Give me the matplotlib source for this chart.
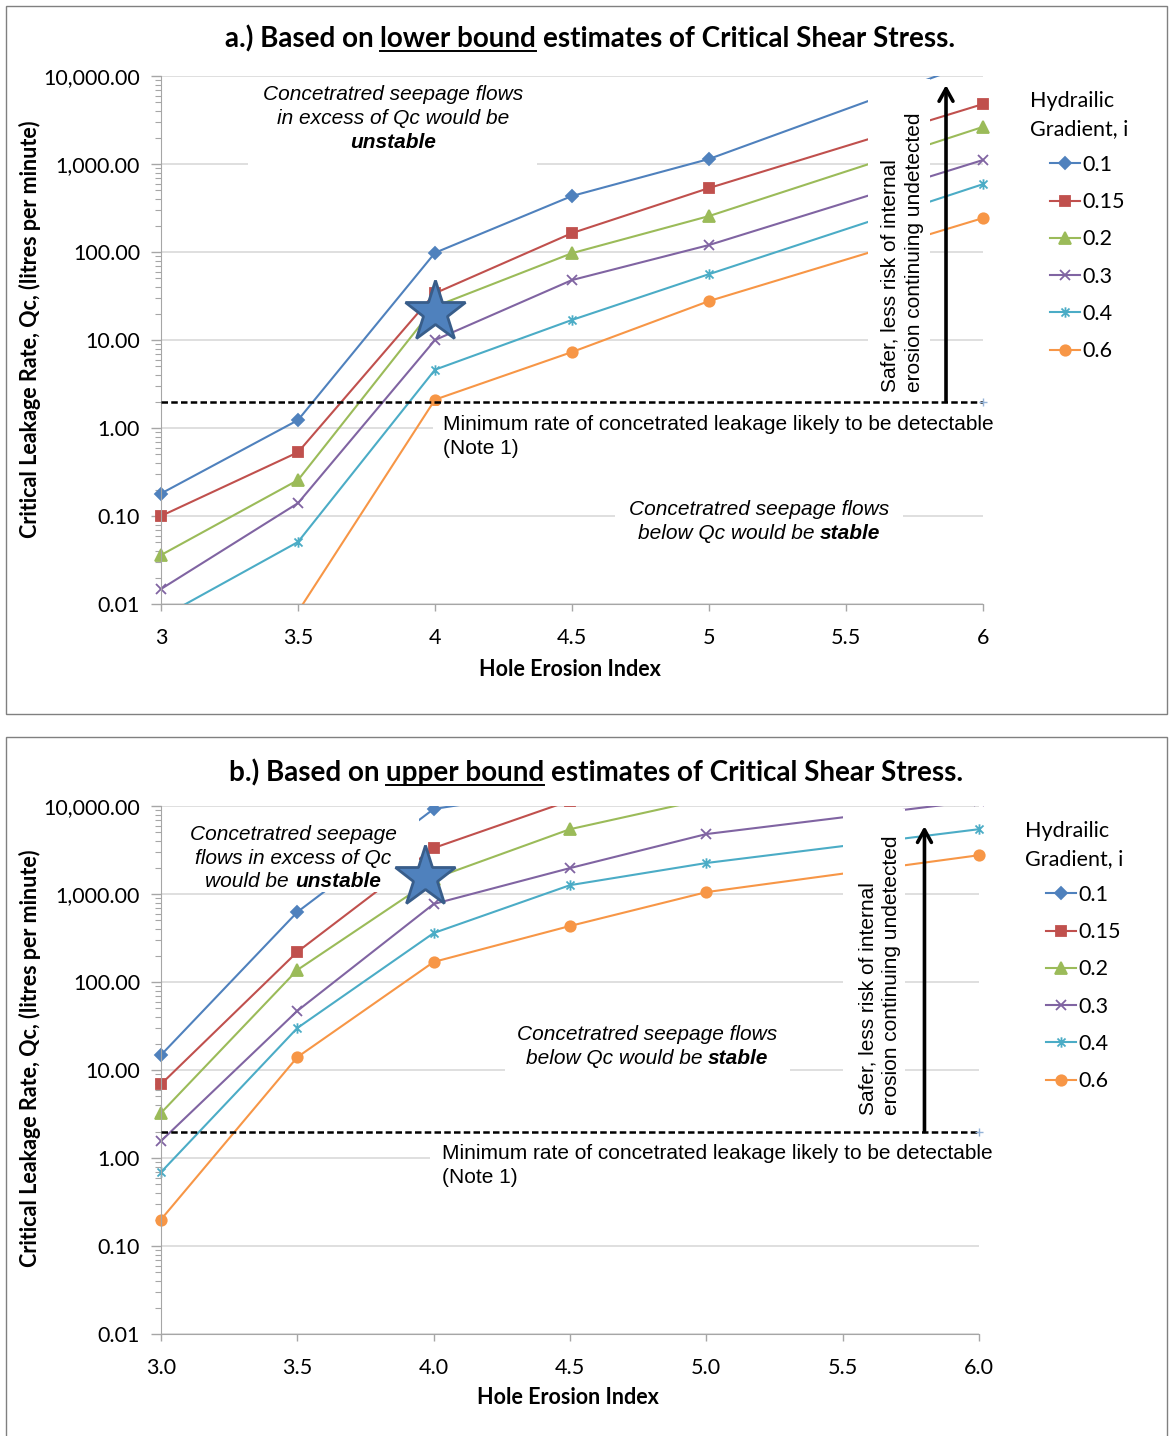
import matplotlib
matplotlib.use("Agg")
import matplotlib.pyplot as plt
from matplotlib.lines import Line2D
from matplotlib.patches import Rectangle
from matplotlib.path import Path
from matplotlib.ticker import FixedLocator, FuncFormatter, LogLocator, NullFormatter
from matplotlib.transforms import Bbox, IdentityTransform, TransformedBbox

# hole erosion index where Qc was worked out
hei = [3.0, 3.5, 4.0, 4.5, 5.0, 6.0]
gradients = ["0.1", "0.15", "0.2", "0.3", "0.4", "0.6"]

# a.) lower bound critical shear stress -> Qc (litres per minute)
lower_01 = [0.18, 1.23, 98, 433, 1140, 15500]
lower_015 = [0.10, 0.53, 34, 164, 533, 4800]
lower_02 = [0.036, 0.256, 24, 97, 256, 2640]
lower_03 = [0.0148, 0.14, 10, 48, 120, 1110]
lower_04 = [0.007, 0.0507, 4.6, 16.9, 56, 590]
lower_06 = [0.001, 0.0082, 2.1, 7.3, 27.7, 243]

# b.) upper bound critical shear stress
upper_01 = [14.8, 624, 9250, 16000, 30000, 60000]
upper_015 = [6.9, 220, 3330, 11500, 25000, 50000]
upper_02 = [3.25, 137, 1500, 5450, 12000, 25000]
upper_03 = [1.56, 47, 770, 1970, 4800, 11500]
upper_04 = [0.69, 30, 360, 1260, 2250, 5450]
upper_06 = [0.2, 14, 169, 433, 1050, 2760]

# minimum detectable leakage
detect_x = [3.0, 6.0]
detect_q = [2.0, 2.0]

star_lower = ([4.0], [21.0])
star_upper = ([3.97], [1550.0])
arrow_lower = (5.865, 7900.0)
arrow_upper = (5.80, 5900.0)

x_ticks = [3.0, 3.5, 4.0, 4.5, 5.0, 5.5, 6.0]
y_ticks = [0.01, 0.1, 1, 10, 100, 1000, 10000]

colors = ["#4F81BD", "#C0504D", "#9BBB59", "#8064A2", "#4BACC6", "#F79646"]
asterisk = Path([(-1, -1), (1, 1), (-1, 1), (1, -1), (0, -1.3), (0, 1.3)],
                [Path.MOVETO, Path.LINETO] * 3)
markers = ["D", "s", "^", "x", asterisk, "o"]
msizes = [6, 7.5, 8, 7.5, 7.5, 7.5]
filled = [True, True, True, False, False, True]

W, H = 1169, 1436
plt.rcParams["font.family"] = ["Lato", "DejaVu Sans"]
fig = plt.figure(figsize=(W / 100, H / 100), dpi=100)
RND = fig.canvas.get_renderer()

note_font = dict(family="Liberation Sans", fontsize=15)


def text_width(s, **font):
    t = fig.text(0, 0, s, **font)
    w = t.get_window_extent(RND).width
    t.remove()
    return w


def rich_line(ax, x, base, runs, align="center", **font):
    # runs of differently styled text on one baseline, x/base in image pixels
    gap = text_width("x x", **font) - text_width("xx", **font)
    arts = []
    for s, extra in runs:
        a = ax.annotate(s, xy=(x, H - base), xycoords="figure pixels",
                        xytext=(0, 0), textcoords="offset pixels",
                        ha="left", va="baseline", zorder=6,
                        annotation_clip=False, **{**font, **extra})
        arts.append(a)
    widths = [a.get_window_extent(RND).width for a in arts]
    off = 0 if align == "left" else -(sum(widths) + gap * (len(arts) - 1)) / 2
    spans = []
    for a, w in zip(arts, widths):
        a.xyann = (off, 0)
        spans.append((x + off, x + off + w))
        off += w + gap
    return spans


def mask(ax, x0, y0, x1, y1):
    # white text-box background
    ax.add_patch(Rectangle((x0, H - y1), x1 - x0, y1 - y0, transform=IdentityTransform(),
                           fc="white", ec="none", zorder=3))


def panel(ax, series, star, arrow, xfmt):
    clip = TransformedBbox(Bbox([[-0.03, 0], [1.03, 1]]), ax.transAxes)
    for q, lab, col, mk, ms, fl in zip(series, gradients, colors, markers, msizes, filled):
        ln, = ax.plot(hei, q, color=col, lw=1.5, marker=mk, ms=ms,
                      mfc=col if fl else "none", mec=col, mew=1.3, label=lab, zorder=2)
        ln.set_clip_box(clip)
    ax.plot(detect_x, detect_q, color="black", lw=1.8, ls=(0, (2.6, 1.3)), zorder=4)
    ax.plot(detect_x[-1:], detect_q[-1:], "+", color="#95B3D7", ms=6, mew=1, zorder=4, clip_on=False)
    ax.plot(*star, marker="*", ms=46, mfc="#4F81BD", mec="#385D8A", mew=2, ls="none",
            zorder=7, clip_on=False)
    ax.annotate("", xy=(arrow[0], arrow[1]), xytext=(arrow[0], detect_q[0]),
                arrowprops=dict(arrowstyle="->,head_length=0.9,head_width=0.5", lw=2.6,
                                color="black", shrinkA=0, shrinkB=0, mutation_scale=10),
                zorder=5)

    ax.set_yscale("log")
    ax.set_xlim(3, 6)
    ax.set_ylim(0.01, 10000)
    ax.xaxis.set_major_locator(FixedLocator(x_ticks))
    ax.xaxis.set_major_formatter(FuncFormatter(lambda v, p: xfmt(v)))
    ax.yaxis.set_major_locator(FixedLocator(y_ticks))
    ax.yaxis.set_major_formatter(FuncFormatter(lambda v, p: f"{v:,.2f}"))
    ax.yaxis.set_minor_locator(LogLocator(base=10, subs=range(2, 10), numticks=20))
    ax.yaxis.set_minor_formatter(NullFormatter())
    ax.set_axisbelow(True)
    ax.grid(axis="y", which="major", color="#D9D9D9", lw=1.2)
    for s in ("top", "right"):
        ax.spines[s].set_visible(False)
    for s in ("left", "bottom"):
        ax.spines[s].set_color("#A6A6A6")
    ax.tick_params(axis="y", which="major", length=7, width=1, color="#A6A6A6", pad=8, labelsize=15.5)
    ax.tick_params(axis="y", which="minor", length=4.5, width=0.8, color="#A6A6A6")
    ax.tick_params(axis="x", length=5, width=1, color="#A6A6A6", pad=12, labelsize=15.5)


# panel frames
fig.add_artist(Rectangle((6 / W, 1 - 714 / H), 1161 / W, 708 / H, transform=fig.transFigure,
                         fill=False, ec="#808080", lw=1))
fig.add_artist(Rectangle((6 / W, -0.01), 1161 / W, 1 - 737 / H + 0.01, transform=fig.transFigure,
                         fill=False, ec="#808080", lw=1))

axa = fig.add_axes([161 / W, 1 - 604 / H, 822 / W, 528 / H])
axb = fig.add_axes([161 / W, 1 - 1334 / H, 818 / W, 528 / H])

panel(axa, [lower_01, lower_015, lower_02, lower_03, lower_04, lower_06],
      star_lower, arrow_lower, lambda v: f"{v:g}")
panel(axb, [upper_01, upper_015, upper_02, upper_03, upper_04, upper_06],
      star_upper, arrow_upper, lambda v: f"{v:.1f}")

title_font = dict(family="Lato", fontsize=20, fontweight="bold")
for ax, base, cx, bound in [(axa, 47, 590, "lower bound"), (axb, 781, 596, "upper bound")]:
    prefix = "a.) Based on" if ax is axa else "b.) Based on"
    spans = rich_line(ax, cx, base, [(prefix, {}), (bound, {}),
                                     ("estimates of Critical Shear Stress.", {})], **title_font)
    x0, x1 = spans[1]
    fig.add_artist(Line2D([x0, x1], [H - base - 3.5] * 2, transform=IdentityTransform(),
                          color="black", lw=1.4))

lab_font = dict(family="Lato", fontsize=15.5, fontweight="bold")
for ax, ymid, xlab in [(axa, 329, (570, 669)), (axb, 1058, (568, 1397))]:
    fig.text(30 / W, 1 - ymid / H, "Critical Leakage Rate, Qc, (litres per minute)",
             rotation=90, ha="center", va="center", **lab_font)
    fig.text(xlab[0] / W, 1 - xlab[1] / H, "Hole Erosion Index", ha="center", va="center",
             family="Lato", fontsize=15.5, fontweight="bold")

ital = {**note_font, "fontstyle": "italic"}
bold = {"fontweight": "bold"}

# --- panel a notes
mask(axa, 248, 79, 537, 170)
rich_line(axa, 393, 100, [("Concetratred seepage flows", {})], **ital)
rich_line(axa, 393, 124, [("in excess of Qc would be", {})], **ital)
rich_line(axa, 393, 148, [("unstable", bold)], **ital)

mask(axa, 615, 497, 903, 546)
rich_line(axa, 759, 515, [("Concetratred seepage flows", {})], **ital)
rich_line(axa, 759, 539, [("below Qc would be", {}), ("stable", bold)], **ital)

mask(axa, 433, 406, 1000, 462)
rich_line(axa, 443, 430, [("Minimum rate of concetrated leakage likely to be detectable", {})],
          align="left", **note_font)
rich_line(axa, 443, 454, [("(Note 1)", {})], align="left", **note_font)

mask(axa, 868, 79, 930, 396)
for bx, s in [(896, "Safer, less risk of internal"), (920, "erosion continuing undetected")]:
    axa.annotate(s, xy=(bx, H - 392), xycoords="figure pixels", rotation=90,
                 rotation_mode="anchor", ha="left", va="baseline", zorder=6,
                 annotation_clip=False, **note_font)

# --- panel b notes
mask(axb, 180, 814, 419, 892)
rich_line(axb, 293, 840, [("Concetratred seepage", {})], **ital)
rich_line(axb, 293, 864, [("flows in excess of Qc", {})], **ital)
rich_line(axb, 293, 887, [("would be", {}), ("unstable", bold)], **ital)

mask(axb, 505, 1022, 790, 1076)
rich_line(axb, 647, 1040, [("Concetratred seepage flows", {})], **ital)
rich_line(axb, 647, 1064, [("below Qc would be", {}), ("stable", bold)], **ital)

mask(axb, 430, 1136, 1000, 1192)
rich_line(axb, 442, 1159, [("Minimum rate of concetrated leakage likely to be detectable", {})],
          align="left", **note_font)
rich_line(axb, 442, 1183, [("(Note 1)", {})], align="left", **note_font)

mask(axb, 843, 809, 905, 1124)
for bx, s in [(873, "Safer, less risk of internal"), (897, "erosion continuing undetected")]:
    axb.annotate(s, xy=(bx, H - 1115), xycoords="figure pixels", rotation=90,
                 rotation_mode="anchor", ha="left", va="baseline", zorder=6,
                 annotation_clip=False, **note_font)

# legends
for ax, tx, tbase, hx, top in [(axa, 1030, (107, 135), 1050, 155), (axb, 1025, (837, 865), 1046, 885)]:
    for b, s in zip(tbase, ["Hydrailic", "Gradient, i"]):
        fig.text(tx / W, 1 - b / H, s, ha="left", va="baseline", family="Lato", fontsize=15.5)
    ax.legend(loc="upper left", bbox_to_anchor=(hx / W, 1 - top / H), bbox_transform=fig.transFigure,
              frameon=False, prop=dict(family="Lato", size=15.5), handlelength=1.4,
              handletextpad=0.1, labelspacing=0.8, borderpad=0, borderaxespad=0)

fig.savefig("out.png", dpi=100)
